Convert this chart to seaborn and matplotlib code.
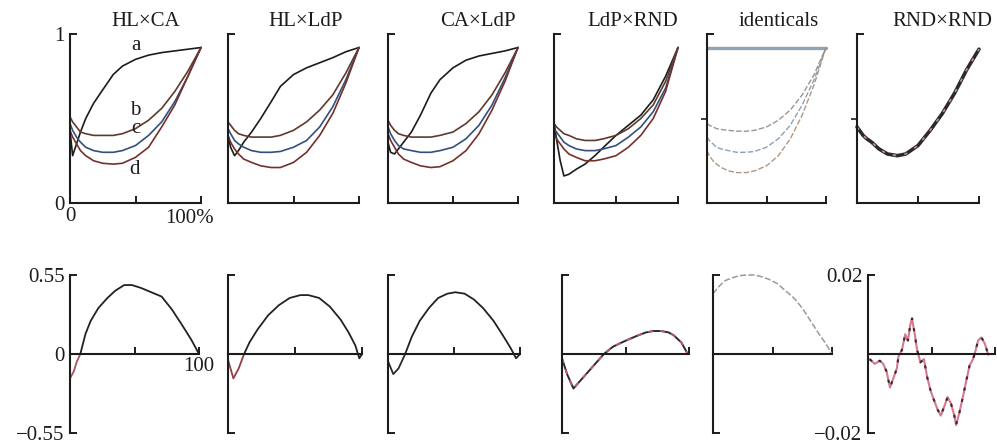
import matplotlib
matplotlib.use("Agg")
import matplotlib.pyplot as plt
import seaborn as sns

# ---------------------------------------------------------------- data
TITLES = ["HL×CA", "HL×LdP", "CA×LdP", "LdP×RND", "identicals", "RND×RND"]

# share of the population (%) shared by every curve of the upper row
X_TOP = [0, 2, 5, 8, 12, 18, 25, 33, 40, 50, 60, 70, 80, 90, 100]

HLCA_A = [0.43, 0.28, 0.35, 0.42, 0.50, 0.59, 0.67, 0.76, 0.81, 0.85, 0.875, 0.89, 0.90, 0.91, 0.92]
HLCA_B = [0.51, 0.48, 0.45, 0.42, 0.41, 0.40, 0.40, 0.40, 0.41, 0.44, 0.49, 0.56, 0.66, 0.78, 0.92]
HLCA_C = [0.47, 0.43, 0.39, 0.36, 0.33, 0.31, 0.30, 0.30, 0.31, 0.34, 0.40, 0.48, 0.60, 0.75, 0.92]
HLCA_D = [0.43, 0.39, 0.35, 0.31, 0.28, 0.25, 0.235, 0.23, 0.235, 0.27, 0.33, 0.45, 0.58, 0.75, 0.92]

HLLDP_A = [0.40, 0.33, 0.28, 0.31, 0.36, 0.42, 0.50, 0.60, 0.69, 0.76, 0.80, 0.83, 0.86, 0.895, 0.92]
HLLDP_B = [0.48, 0.46, 0.43, 0.41, 0.40, 0.39, 0.39, 0.39, 0.40, 0.43, 0.48, 0.55, 0.64, 0.77, 0.92]
HLLDP_C = [0.44, 0.41, 0.37, 0.35, 0.33, 0.31, 0.30, 0.30, 0.305, 0.33, 0.37, 0.45, 0.57, 0.73, 0.92]
HLLDP_D = [0.40, 0.36, 0.32, 0.29, 0.26, 0.24, 0.22, 0.21, 0.21, 0.24, 0.30, 0.40, 0.53, 0.71, 0.92]

CALDP_A = [0.36, 0.30, 0.29, 0.32, 0.36, 0.42, 0.52, 0.65, 0.73, 0.80, 0.845, 0.87, 0.885, 0.90, 0.92]
CALDP_B = [0.49, 0.46, 0.43, 0.41, 0.40, 0.39, 0.39, 0.39, 0.40, 0.42, 0.47, 0.54, 0.64, 0.77, 0.92]
CALDP_C = [0.45, 0.41, 0.37, 0.34, 0.32, 0.31, 0.30, 0.30, 0.31, 0.33, 0.38, 0.46, 0.58, 0.74, 0.92]
CALDP_D = [0.41, 0.37, 0.33, 0.29, 0.26, 0.24, 0.22, 0.21, 0.215, 0.25, 0.31, 0.41, 0.55, 0.72, 0.92]

LDPRND_A = [0.48, 0.38, 0.25, 0.16, 0.17, 0.20, 0.23, 0.28, 0.33, 0.40, 0.46, 0.52, 0.61, 0.75, 0.92]
LDPRND_B = [0.47, 0.45, 0.43, 0.41, 0.40, 0.38, 0.37, 0.37, 0.38, 0.40, 0.44, 0.50, 0.58, 0.72, 0.92]
LDPRND_C = [0.44, 0.42, 0.39, 0.36, 0.34, 0.32, 0.31, 0.31, 0.32, 0.34, 0.39, 0.45, 0.54, 0.68, 0.92]
LDPRND_D = [0.41, 0.38, 0.35, 0.32, 0.29, 0.27, 0.25, 0.25, 0.26, 0.28, 0.33, 0.40, 0.50, 0.66, 0.92]

IDENT_A = [0.92, 0.92, 0.92, 0.92, 0.92, 0.92, 0.92, 0.92, 0.92, 0.92, 0.92, 0.92, 0.92, 0.92, 0.92]
IDENT_B = [0.47, 0.46, 0.45, 0.44, 0.435, 0.43, 0.425, 0.425, 0.43, 0.45, 0.49, 0.55, 0.64, 0.76, 0.92]
IDENT_C = [0.39, 0.37, 0.35, 0.33, 0.32, 0.31, 0.30, 0.30, 0.305, 0.33, 0.38, 0.46, 0.58, 0.73, 0.92]
IDENT_D = [0.31, 0.28, 0.25, 0.23, 0.21, 0.19, 0.18, 0.18, 0.19, 0.22, 0.28, 0.38, 0.52, 0.70, 0.92]

RNDRND_A = [0.45, 0.43, 0.40, 0.38, 0.36, 0.32, 0.29, 0.28, 0.29, 0.34, 0.43, 0.53, 0.65, 0.79, 0.91]

# differences plotted in the lower row (x in %)
D_HLCA_NEG_X = [0, 3, 5, 8]
D_HLCA_NEG_Y = [-0.17, -0.12, -0.06, 0.0]
D_HLCA_X = [8, 12, 16, 22, 29, 35, 42, 48, 55, 63, 71, 79, 87, 94, 100]
D_HLCA_Y = [0.0, 0.14, 0.23, 0.32, 0.39, 0.44, 0.48, 0.48, 0.46, 0.43, 0.40, 0.31, 0.20, 0.10, 0.0]

D_HLLDP_NEG_X = [0, 4, 8, 12]
D_HLLDP_NEG_Y = [-0.04, -0.17, -0.10, 0.0]
D_HLLDP_X = [12, 16, 22, 30, 38, 46, 54, 60, 68, 76, 84, 90, 95, 98, 100]
D_HLLDP_Y = [0.0, 0.08, 0.17, 0.27, 0.34, 0.39, 0.41, 0.41, 0.39, 0.33, 0.24, 0.15, 0.06, -0.03, 0.0]

D_CALDP_NEG_X = [0, 4, 8, 13]
D_CALDP_NEG_Y = [-0.05, -0.14, -0.10, 0.0]
D_CALDP_X = [13, 18, 24, 31, 38, 45, 51, 58, 65, 72, 80, 87, 93, 97, 100]
D_CALDP_Y = [0.0, 0.12, 0.23, 0.32, 0.39, 0.42, 0.43, 0.42, 0.38, 0.32, 0.23, 0.13, 0.04, -0.03, 0.0]

D_LDPRND_X = [0, 4, 9, 14, 20, 26, 33, 40, 47, 52, 60, 66, 72, 78, 84, 88, 94, 99]
D_LDPRND_Y = [-0.03, -0.14, -0.24, -0.19, -0.13, -0.07, 0.0, 0.05, 0.08, 0.10, 0.13, 0.15, 0.16,
              0.16, 0.15, 0.13, 0.08, 0.0]

D_IDENT_X = [0, 5, 10, 16, 22, 28, 34, 40, 47, 54, 61, 68, 75, 82, 89, 95, 100]
D_IDENT_Y = [0.42, 0.47, 0.51, 0.53, 0.545, 0.55, 0.55, 0.54, 0.52, 0.49, 0.44, 0.39, 0.32, 0.23,
             0.14, 0.07, 0.0]

D_RNDRND_X = [1.3, 5.3, 9.3, 12.0, 14.7, 17.3, 20.0, 22.7, 24.0, 26.7, 29.3, 31.5, 33.3, 34.7,
              36.8, 38.7, 41.3, 44.0, 46.7, 49.3, 52.0, 54.7, 57.3, 60.0, 62.7, 65.3, 68.0, 69.3,
              72.0, 74.7, 77.3, 80.0, 82.7, 84.8, 86.7, 89.3, 92.0, 94.7]
D_RNDRND_Y = [-0.0013, -0.0025, -0.0017, -0.0025, -0.0045, -0.0085, -0.0061, -0.0037, -0.0006,
              0.0010, 0.0050, 0.0034, 0.0074, 0.0090, 0.0050, 0.0010, -0.0021, -0.0013, -0.0060,
              -0.0093, -0.0117, -0.0140, -0.0156, -0.0133, -0.0109, -0.0125, -0.0156, -0.0180,
              -0.0148, -0.0109, -0.0069, -0.0029, -0.0013, 0.0010, 0.0034, 0.0042, 0.0026, -0.0002]

TOP_CURVES = [
    [HLCA_A, HLCA_B, HLCA_C, HLCA_D],
    [HLLDP_A, HLLDP_B, HLLDP_C, HLLDP_D],
    [CALDP_A, CALDP_B, CALDP_C, CALDP_D],
    [LDPRND_A, LDPRND_B, LDPRND_C, LDPRND_D],
    [IDENT_A, IDENT_B, IDENT_C, IDENT_D],
    [RNDRND_A],
]

# ---------------------------------------------------------------- style
sns.set_style("white")
plt.rcParams["font.family"] = ["Liberation Serif", "DejaVu Serif"]
plt.rcParams["axes.unicode_minus"] = True

INK = "#1c1c1c"
FS = 15
CURVE_COLORS = ["#1c1c1c", "#5e3a2c", "#33507c", "#76302c"]
IDENT_COLORS = ["#8fa4b4", "#8c8c8c", "#7f96b2", "#a88c72"]

W, H = 997, 446
fig = plt.figure(figsize=(W / 100, H / 100), dpi=100)
fig.patch.set_facecolor("white")


def add_axes_px(left, right, top, bottom):
    return fig.add_axes([left / W, 1 - bottom / H, (right - left) / W, (bottom - top) / H])


def style_axes(ax):
    for side in ("top", "right"):
        ax.spines[side].set_visible(False)
    for side in ("left", "bottom"):
        ax.spines[side].set_color(INK)
        ax.spines[side].set_linewidth(1.5)
    ax.set_facecolor("none")
    ax.tick_params(which="both", bottom=True, left=True, top=False, right=False)
    ax.tick_params(which="major", direction="in", length=5, width=1.4, color=INK,
                   labelsize=FS, labelcolor=INK, pad=4)
    ax.set_xlabel("")
    ax.set_ylabel("")


def line(ax, x, y, color, lw=1.2, **kw):
    sns.lineplot(x=x, y=y, ax=ax, color=color, linewidth=lw, sort=False,
                 estimator=None, legend=False, clip_on=False, **kw)


# ---------------------------------------------------------------- upper row
TOP_X = [(70, 201), (228, 359), (388, 518), (554, 678), (707, 826), (857, 979)]
TITLE_CX = [146, 306, 478, 633, 779, 942]

for i, (lr, curves) in enumerate(zip(TOP_X, TOP_CURVES)):
    ax = add_axes_px(lr[0], lr[1], 34, 203)
    if i == 4:
        for k, ys in enumerate(curves):
            if k == 0:
                line(ax, X_TOP, ys, IDENT_COLORS[0], lw=2.4)
            else:
                line(ax, X_TOP, ys, IDENT_COLORS[k], lw=1.0, alpha=0.9,
                     linestyle=(0, (4, 1.5)))
    elif i == 5:
        line(ax, X_TOP, curves[0], "#2a2a2a", lw=2.6)
        line(ax, X_TOP, curves[0], "#c98a9c", lw=1.2, linestyle=(0, (2, 5)))
    else:
        for k, ys in enumerate(curves):
            line(ax, X_TOP, ys, CURVE_COLORS[k], lw=1.2)
    ax.set_xlim(0, 100)
    ax.set_ylim(0, 1)
    style_axes(ax)
    if i == 0:
        ax.set_xticks([0, 50, 100])
        ax.set_xticklabels(["0", "", ""])
        ax.text(91, -0.035, "100%", fontsize=FS, color=INK, ha="center", va="top")
        ax.set_yticks([0, 1])
        ax.set_yticklabels(["0", "1"])
        for txt, (tx, ty) in zip(["a", "b", "c", "d"],
                                 [(50, 0.93), (50, 0.55), (50, 0.44), (49, 0.20)]):
            ax.text(tx, ty, txt, fontsize=FS, color=INK, ha="center", va="center")
    else:
        ax.set_xticks([50, 100])
        ax.set_xticklabels(["", ""])
        ax.set_yticks([1])
        ax.set_yticklabels([""])
    if i >= 4:
        ax.set_yticks([0.5], minor=True)
        ax.tick_params(axis="y", which="minor", direction="out", length=4, width=1.2,
                       color=INK, left=True)
    ax.tick_params(axis="x", which="major", length=5, pad=3)
    fig.text(TITLE_CX[i] / W, 1 - 22 / H, TITLES[i], fontsize=FS, color=INK,
             ha="center", va="center")

# ---------------------------------------------------------------- lower row
BOT_X = [(70, 199), (228, 362), (388, 520), (562, 689), (713, 832), (868, 995)]
BOT_DATA = [
    (D_HLCA_NEG_X, D_HLCA_NEG_Y, D_HLCA_X, D_HLCA_Y, "#b0505c"),
    (D_HLLDP_NEG_X, D_HLLDP_NEG_Y, D_HLLDP_X, D_HLLDP_Y, "#9a3a44"),
    (D_CALDP_NEG_X, D_CALDP_NEG_Y, D_CALDP_X, D_CALDP_Y, "#2a2a2a"),
]

for i, lr in enumerate(BOT_X):
    ax = add_axes_px(lr[0], lr[1], 275, 433)
    lim = 0.02 if i == 5 else 0.55
    if i < 3:
        nx, ny, px, py, ncol = BOT_DATA[i]
        line(ax, px, py, "#222222", lw=1.3)
        line(ax, nx, ny, ncol, lw=1.3)
    elif i == 3:
        line(ax, D_LDPRND_X, D_LDPRND_Y, "#2a2a2a", lw=1.4)
        line(ax, D_LDPRND_X, D_LDPRND_Y, "#c65a6a", lw=1.2, linestyle=(0, (3, 4)))
    elif i == 4:
        line(ax, D_IDENT_X, D_IDENT_Y, "#9a9a9a", lw=1.1, linestyle=(0, (4, 1.5)))
    else:
        line(ax, D_RNDRND_X, D_RNDRND_Y, "#d6788e", lw=1.5)
        line(ax, D_RNDRND_X, D_RNDRND_Y, "#3a2a2e", lw=1.5, linestyle=(0, (1.5, 4)))
    ax.set_xlim(0, 100)
    ax.set_ylim(-lim, lim)
    style_axes(ax)
    ax.spines["bottom"].set_position(("data", 0))
    ax.set_xticks([50, 100])
    if i == 0:
        ax.set_xticklabels(["", "100"])
        ax.set_yticks([-0.55, 0, 0.55])
        ax.set_yticklabels(["−0.55", "0", "0.55"])
    elif i == 5:
        ax.set_xticklabels(["", ""])
        ax.set_yticks([-0.02, 0.02])
        ax.set_yticklabels(["−0.02", "0.02"])
    else:
        ax.set_xticklabels(["", ""])
        ax.set_yticks([-lim, lim])
        ax.set_yticklabels(["", ""])
    ax.tick_params(axis="x", which="major", length=5, pad=2)

fig.savefig("out.png", dpi=100, facecolor="white")
